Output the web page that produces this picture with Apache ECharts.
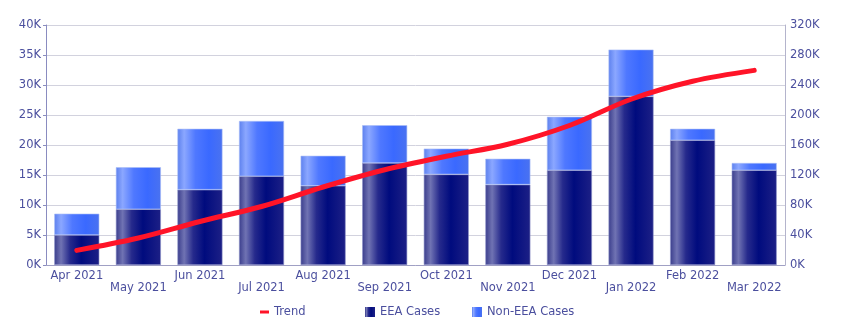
<!DOCTYPE html>
<html><head><meta charset="utf-8">
<script src="https://cdn.jsdelivr.net/npm/echarts@6/dist/echarts.min.js"></script>
<style>html,body{margin:0;padding:0;background:#fff}#c{width:849px;height:333px}</style>
</head><body><div id="c"></div>
<script>
const categories = ['Apr 2021','May 2021','Jun 2021','Jul 2021','Aug 2021','Sep 2021','Oct 2021','Nov 2021','Dec 2021','Jan 2022','Feb 2022','Mar 2022'];
const eeaCases = [5000, 9300, 12550, 14800, 13200, 17000, 15100, 13400, 15800, 28100, 20800, 15800];
const nonEeaCases = [3550, 7000, 10150, 9200, 5000, 6300, 4300, 4300, 8900, 7800, 1900, 1200];
const trend = [19500, 36000, 58000, 78000, 104000, 127000, 145000, 161000, 186000, 221000, 245000, 259500];
const leftTicks = {min: 0, max: 40000, interval: 5000};
const rightTicks = {min: 0, max: 320000, interval: 40000};

const txt = '#4b4f9e';
const fs = 11.5;
const kFmt = v => (v / 1000) + 'K';
const eeaGrad = new echarts.graphic.LinearGradient(0, 0, 1, 0, [
  {offset: 0, color: '#3a3d8c'}, {offset: 0.15, color: '#7073b3'}, {offset: 0.35, color: '#262a8c'},
  {offset: 0.6, color: '#000b7e'}, {offset: 1, color: '#1d2086'}]);
const nonGrad = new echarts.graphic.LinearGradient(0, 0, 1, 0, [
  {offset: 0, color: '#5c80ee'}, {offset: 0.15, color: '#8ba7ff'}, {offset: 0.4, color: '#4f78ff'},
  {offset: 0.7, color: '#3a69ff'}, {offset: 1, color: '#4a72f0'}]);
const lineIcon = 'path://M0,0L0.01,0L0,0.01Z M0,3.5h9v3h-9z M0,10L0.01,10L0,9.99Z';
const legendBase = {top: 306, padding: 0, itemWidth: 10, itemHeight: 10, itemGap: 0, itemTextGap: 3,
  itemStyle: {borderWidth: 0},
  textStyle: {color: txt, fontSize: fs, fontFamily: 'DejaVu Sans'}};

const chart = echarts.init(document.getElementById('c'), null, {renderer: 'canvas'});
chart.setOption({
  animation: false,
  textStyle: {fontFamily: 'DejaVu Sans'},
  grid: {left: 46, right: 64, top: 25, bottom: 68},
  legend: [
    Object.assign({}, legendBase, {left: 260, itemWidth: 9, data: [{name: 'Trend', icon: lineIcon}]}),
    Object.assign({}, legendBase, {left: 365, data: [{name: 'EEA Cases', icon: 'rect'}]}),
    Object.assign({}, legendBase, {left: 472, data: [{name: 'Non-EEA Cases', icon: 'rect'}]})
  ],
  xAxis: {
    type: 'category', data: categories,
    axisLine: {lineStyle: {color: '#a0a0c4', width: 1}},
    axisTick: {show: false},
    axisLabel: {color: txt, fontSize: fs, interval: 0, margin: 5, lineHeight: 12,
      formatter: (v, i) => (i % 2 ? '\n' + v : v)}
  },
  yAxis: [
    {type: 'value', min: leftTicks.min, max: leftTicks.max, interval: leftTicks.interval,
     axisLine: {show: true, lineStyle: {color: '#8a8cc0'}},
     axisTick: {show: true, length: 3, lineStyle: {color: '#8a8cc0'}},
     axisLabel: {color: txt, fontSize: fs, formatter: kFmt, margin: 5},
     splitLine: {lineStyle: {color: '#d2d2de', width: 1}}},
    {type: 'value', min: rightTicks.min, max: rightTicks.max, interval: rightTicks.interval,
     axisLine: {show: true, lineStyle: {color: '#b4b4cc'}},
     axisTick: {show: false},
     axisLabel: {color: txt, fontSize: fs, formatter: kFmt, margin: 5},
     splitLine: {show: false}}
  ],
  series: [
    {name: 'EEA Cases', type: 'bar', stack: 'c', data: eeaCases, barWidth: 45, z: 2,
     itemStyle: {color: eeaGrad, borderColor: '#8f93c9', borderWidth: 0.6}},
    {name: 'Non-EEA Cases', type: 'bar', stack: 'c', data: nonEeaCases, barWidth: 45, z: 2,
     itemStyle: {color: nonGrad, borderColor: '#a9bdf6', borderWidth: 0.6}},
    {name: 'Trend', type: 'line', yAxisIndex: 1, data: trend, smooth: 0.35, symbol: 'none', z: 5,
     lineStyle: {color: '#ff1428', width: 5, cap: 'round'}, itemStyle: {color: '#ff1428'}}
  ]
});
</script></body></html>
